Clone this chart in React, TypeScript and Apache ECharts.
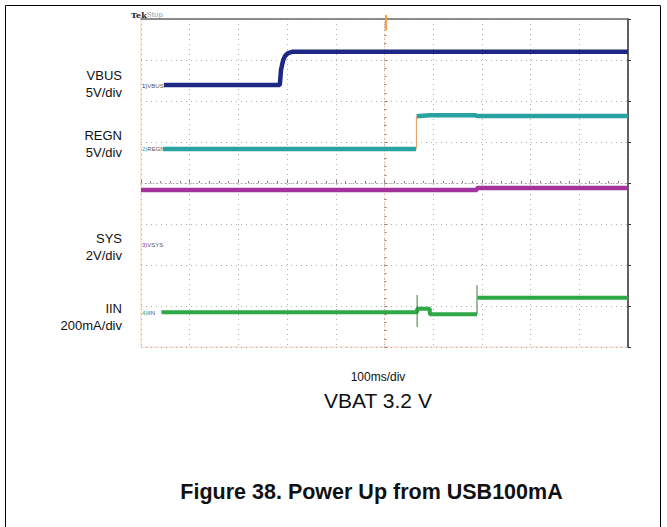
import React, { useEffect, useRef } from "react";
import * as echarts from "echarts";

// Scope screen in divisions: x -5..5 (100 ms/div), y -4..4
const X_DIVS = [-5, 5];
const Y_DIVS = [-4, 4];

const VBUS: [number, number][] = [
  [-4.53, 2.39], [-2.15, 2.39], [-2.125, 2.76], [-2.08, 3.0], [-2.04, 3.1],
  [-1.98, 3.17], [-1.9, 3.2], [5, 3.2],
];
const REGN: [number, number][] = [
  [-4.55, 0.83], [0.65, 0.83], [0.65, "-" as any], [0.66, 1.63], [0.93, 1.655],
  [1.86, 1.655], [1.9, 1.635], [5, 1.635],
];
const REGN_EDGE: [number, number][] = [[0.655, 0.83], [0.655, 1.63]];
const SYS: [number, number][] = [
  [-5, -0.17], [1.9, -0.17], [1.9, -0.12], [5, -0.12],
];
const IIN: [number, number][] = [
  [-4.58, -3.15], [0.67, -3.15], [0.67, -3.07], [0.93, -3.07], [0.93, -3.2],
  [1.9, -3.2], [1.9, "-" as any], [1.91, -2.8], [5, -2.8],
];
const IIN_SPIKES: [number, any][] = [
  [0.67, -2.73], [0.67, -3.51], [0.67, "-"], [1.9, -2.49], [1.9, -3.2],
];
const TRIGGER: [number, number][] = [[0.03, 4.1], [0.03, 3.72]];

const LEFT_LABELS = [
  { name: "VBUS", scale: "5V/div", y: 75 },
  { name: "REGN", scale: "5V/div", y: 135 },
  { name: "SYS", scale: "2V/div", y: 238 },
  { name: "IIN", scale: "200mA/div", y: 308 },
];
const CH_TAGS = [
  { num: "1", text: "VBUS", y: 86, color: "#1f2785" },
  { num: "2", text: "REGN", y: 149, color: "#29a3a2" },
  { num: "3", text: "VSYS", y: 245, color: "#a3329b" },
  { num: "4", text: "IIN", y: 313, color: "#2fa847" },
];

const FONT = "'Liberation Sans', Arial, Helvetica, sans-serif";

export default function App() {
  const ref = useRef<HTMLDivElement>(null);
  useEffect(() => {
    if (!ref.current) return;
    const chart = echarts.init(ref.current, undefined, { renderer: "svg" });
    const gridColor = "#b9aca7";
    const option: any = {
      animation: false,
      backgroundColor: "#ffffff",
      grid: {
        left: 141, top: 19, width: 487, height: 328,
        show: true, borderColor: "#f1d6c8", borderWidth: 1, backgroundColor: "transparent",
      },
      xAxis: [
        {
          type: "value", min: X_DIVS[0], max: X_DIVS[1], interval: 1,
          axisLine: { show: true, onZero: true, lineStyle: { color: "#b8aca7", type: [1, 3] } },
          axisTick: { show: true, inside: true, length: 3, lineStyle: { color: "#8a7e7a" } },
          minorTick: { show: true, splitNumber: 5, length: 2, lineStyle: { color: "#8a7e7a" } },
          axisLabel: { show: false },
          splitLine: { show: true, lineStyle: { color: gridColor, type: [1, 4], width: 1 } },
        },
        {
          type: "value", min: X_DIVS[0], max: X_DIVS[1], interval: 1, position: "top",
          axisLine: { show: true, onZero: false, lineStyle: { color: "#6e6e6e", width: 1.5 } },
          axisTick: { show: false }, axisLabel: { show: false }, splitLine: { show: false },
        },
      ],
      yAxis: [
        {
          type: "value", min: Y_DIVS[0], max: Y_DIVS[1], interval: 1,
          axisLine: { show: true, onZero: true, lineStyle: { color: "#e2bba8", type: [1, 3] } },
          axisTick: { show: true, inside: true, length: 3, lineStyle: { color: "#8a7e7a" } },
          minorTick: { show: true, splitNumber: 5, length: 2, lineStyle: { color: "#8a7e7a" } },
          axisLabel: { show: false },
          splitLine: { show: true, lineStyle: { color: gridColor, type: [1, 4], width: 1 } },
        },
        {
          type: "value", min: Y_DIVS[0], max: Y_DIVS[1], interval: 1, position: "right",
          axisLine: { show: true, onZero: false, lineStyle: { color: "#333", width: 1.5 } },
          axisTick: { show: true, inside: false, length: 3, lineStyle: { color: "#333" } },
          axisLabel: { show: false }, splitLine: { show: false },
        },
      ],
      series: [
        { name: "SYS", type: "line", data: SYS, showSymbol: false, lineStyle: { color: "#a3329b", width: 4.5 } },
        { name: "VBUS", type: "line", data: VBUS, showSymbol: false, lineStyle: { color: "#1f2785", width: 4.5 } },
        { name: "REGN", type: "line", data: REGN, showSymbol: false, connectNulls: false, lineStyle: { color: "#29a3a2", width: 4.5 } },
        { name: "REGN edge", type: "line", data: REGN_EDGE, showSymbol: false, lineStyle: { color: "#e59a5a", width: 1 } },
        { name: "IIN", type: "line", data: IIN, showSymbol: false, connectNulls: false, lineStyle: { color: "#2fa847", width: 4 } },
        { name: "IIN spikes", type: "line", data: IIN_SPIKES, showSymbol: false, connectNulls: false, lineStyle: { color: "#3d7a3d", width: 1 } },
        { name: "Trigger", type: "line", data: TRIGGER, showSymbol: false, clip: false, lineStyle: { color: "#f0a040", width: 2 } },
      ],
      graphic: [
        { type: "rect", shape: { x: 5.5, y: 5.5, width: 655, height: 540 }, style: { fill: "none", stroke: "#000", lineWidth: 1 }, silent: true },
        {
          type: "text", x: 131, y: 15,
          style: {
            text: "{a|Tek}{b|Stop}", textVerticalAlign: "middle",
            rich: {
              a: { fontFamily: "'DejaVu Serif', serif", fontWeight: "bold", fontSize: 8, fill: "#222" },
              b: { fontFamily: "'DejaVu Serif', serif", fontSize: 7, fill: "#999" },
            },
          },
        },
        ...LEFT_LABELS.flatMap((l) => [
          { type: "text", x: 122, y: l.y, style: { text: l.name, fontFamily: FONT, fontSize: 13, fill: "#111", textAlign: "right", textVerticalAlign: "middle" } },
          { type: "text", x: 122, y: l.y + 17, style: { text: l.scale, fontFamily: FONT, fontSize: 13, fill: "#111", textAlign: "right", textVerticalAlign: "middle" } },
        ]),
        ...CH_TAGS.map((t) => ({
          type: "text", x: 142, y: t.y,
          style: {
            text: `{n|${t.num})}{t|${t.text}}`, textVerticalAlign: "middle",
            rich: {
              n: { fontFamily: FONT, fontSize: 6, fill: t.color },
              t: { fontFamily: FONT, fontSize: 6, fill: "#555" },
            },
          },
        })),
        { type: "text", x: 378, y: 377, style: { text: "100ms/div", fontFamily: FONT, fontSize: 12, fill: "#111", textAlign: "center", textVerticalAlign: "middle" } },
        { type: "text", x: 378, y: 400, style: { text: "VBAT 3.2 V", fontFamily: FONT, fontSize: 21, fill: "#111", textAlign: "center", textVerticalAlign: "middle" } },
        { type: "text", x: 371.5, y: 492, style: { text: "Figure 38. Power Up from USB100mA", fontFamily: FONT, fontSize: 21.5, fontWeight: "bold", fill: "#111", textAlign: "center", textVerticalAlign: "middle" } },
      ],
    };
    chart.setOption(option);
    return () => chart.dispose();
  }, []);
  return (
    <div
      ref={ref}
      style={{ position: "fixed", left: 0, top: 0, width: 667, height: 527, background: "#fff" }}
    />
  );
}
